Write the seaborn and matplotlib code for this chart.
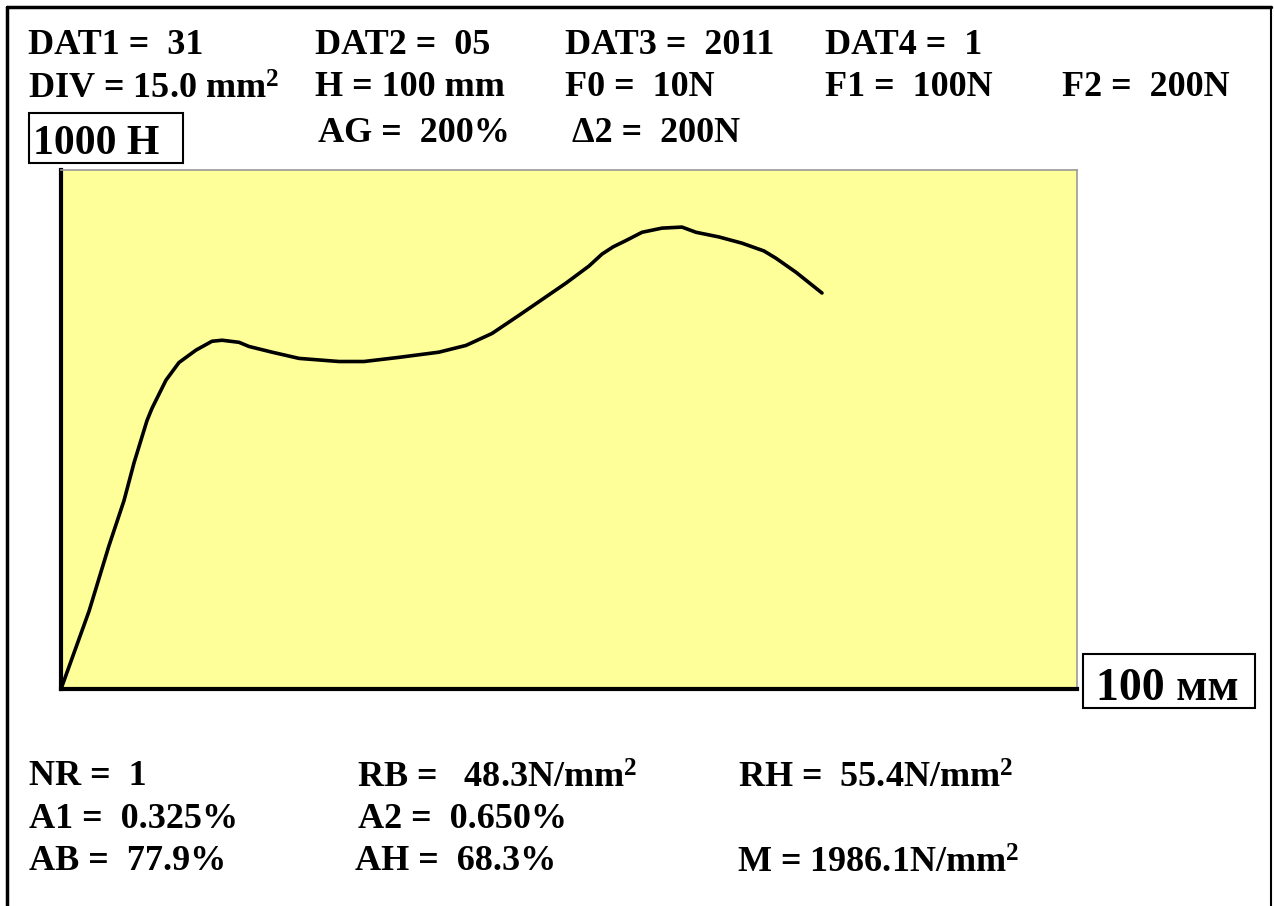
import matplotlib
matplotlib.use("Agg")
import matplotlib.pyplot as plt
from matplotlib.patches import Rectangle
from matplotlib.lines import Line2D
import seaborn as sns
import pandas as pd

# curve: elongation (mm) vs force (N)
elong_mm = [0, 2.76, 4.72, 6.20, 7.19, 8.46, 8.96, 10.33, 11.61, 13.29, 14.86, 15.85,
            17.52, 18.50, 20.77, 23.43, 27.36, 29.82, 33.27, 37.20, 39.86, 42.42,
            45.08, 47.54, 49.70, 51.97, 53.25, 54.35, 55.60, 57.19, 59.15, 61.12, 62.50,
            64.76, 67.03, 69.19, 70.37, 72.34, 74.90]
force_n = [0, 150, 276, 363, 436, 517, 541, 595, 629, 653, 670, 672,
           668, 660, 649, 637, 631, 631, 639, 649, 662, 685,
           720, 753, 782, 815, 838, 852, 864, 880, 888, 890, 880,
           871, 859, 844, 830, 803, 763]

top_texts = ["DAT1 =  31", "DAT2 =  05", "DAT3 =  2011", "DAT4 =  1",
             "DIV = 15.0 mm$^2$", "H = 100 mm", "F0 =  10N", "F1 =  100N", "F2 =  200N",
             "AG =  200%", "Δ2 =  200N"]
bottom_texts = ["NR =  1", "RB =   48.3N/mm$^2$", "RH =  55.4N/mm$^2$",
                "A1 =  0.325%", "A2 =  0.650%",
                "AB =  77.9%", "AH =  68.3%", "M = 1986.1N/mm$^2$"]
y_label = "1000 H"
x_label = "100 мм"

df = pd.DataFrame({"mm": elong_mm, "N": force_n})

sns.set_style("white")
plt.rcParams['font.family'] = ['Liberation Serif', 'DejaVu Serif']
plt.rcParams['font.weight'] = 'bold'
plt.rcParams['text.color'] = 'black'
plt.rcParams['mathtext.fontset'] = 'custom'
plt.rcParams['mathtext.rm'] = 'Liberation Serif:bold'
plt.rcParams['mathtext.it'] = 'Liberation Serif:bold'
plt.rcParams['mathtext.bf'] = 'Liberation Serif:bold'

W, H = 1274, 906
fig = plt.figure(figsize=(W / 100, H / 100), dpi=100)

def fx(x):
    return x / W

def fy(y):
    return 1 - y / H

# plot area
ax = fig.add_axes([fx(61), fy(689), (1077 - 61) / W, (689 - 170) / H])
ax.set_facecolor("#FFFF99")
sns.lineplot(data=df, x="mm", y="N", sort=False, estimator=None,
             color="black", linewidth=2.6, ax=ax)
ax.set_xlim(0, 100)
ax.set_ylim(0, 1000)
ax.set_xticks([])
ax.set_yticks([])
ax.set_xlabel("")
ax.set_ylabel("")
for s in ["left", "bottom"]:
    ax.spines[s].set_color("black")
    ax.spines[s].set_linewidth(3)
for s in ["top", "right"]:
    ax.spines[s].set_color("#999999")
    ax.spines[s].set_linewidth(1.2)

# outer frame
for xs, ys, lw in [([7, 7], [7, 906], 2.5), ([7, 1271], [7, 7], 2.5), ([1271, 1271], [7, 906], 1.5)]:
    fig.add_artist(Line2D([fx(v) for v in xs], [fy(v) for v in ys],
                          transform=fig.transFigure, color="black", linewidth=lw))

def put(t, x, y, size=26):
    # mathtext strings sit a bit high on the baseline, push them down
    if "$" in t:
        y += 3
    fig.text(fx(x), fy(y), t, fontsize=size, fontweight="bold", color="black",
             va="baseline", ha="left")

# header texts
top_pos = [(28, 54), (315, 54), (565, 54), (825, 54),
           (28, 96), (315, 96), (565, 96), (825, 96), (1062, 96),
           (318, 142), (572, 142)]
for t, (x, y) in zip(top_texts, top_pos):
    put(t, x, y)

bot_pos = [(29, 785), (357, 785), (738, 785),
           (29, 828), (358, 828),
           (29, 870), (355, 870), (737, 870)]
for t, (x, y) in zip(bottom_texts, bot_pos):
    put(t, x, y)

# boxed axis labels
fig.add_artist(Rectangle((fx(29), fy(163)), (183 - 29) / W, (163 - 113) / H,
                         transform=fig.transFigure, fill=False, edgecolor="black", linewidth=1.5))
put(y_label, 33, 154, 30)

fig.add_artist(Rectangle((fx(1083), fy(708)), (1255 - 1083) / W, (708 - 654) / H,
                         transform=fig.transFigure, fill=False, edgecolor="black", linewidth=1.5))
put(x_label, 1096, 700, 33)

fig.savefig("out.png", dpi=100)
